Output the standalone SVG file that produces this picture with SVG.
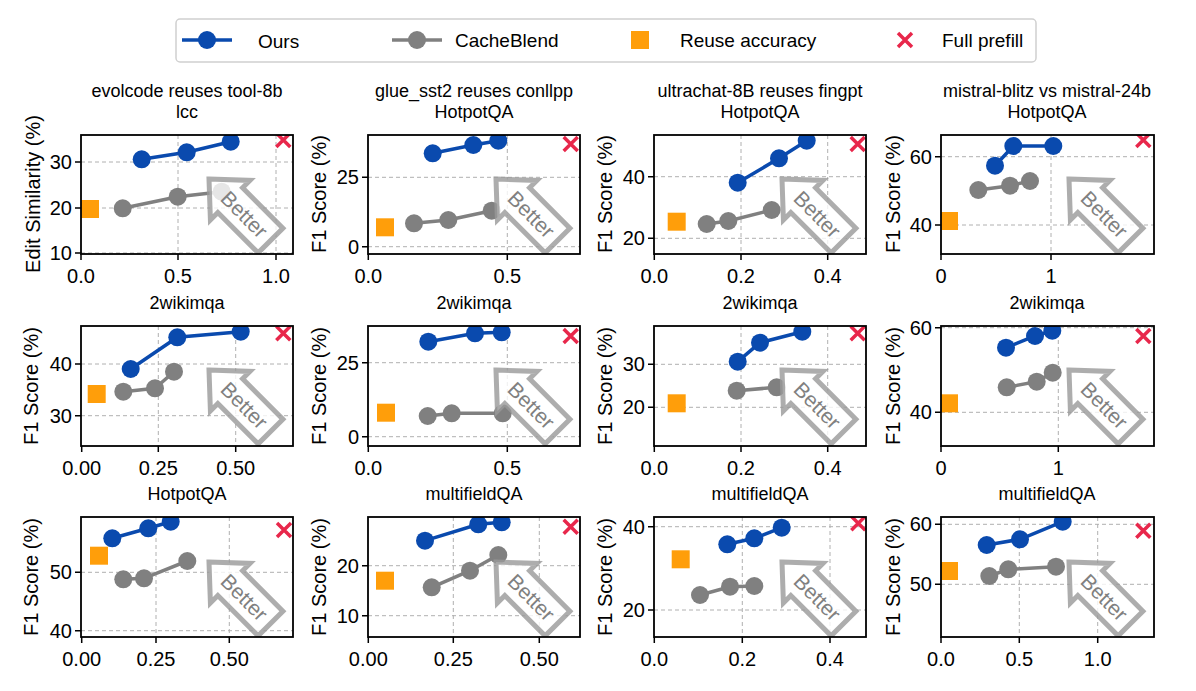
<svg xmlns="http://www.w3.org/2000/svg" width="1196" height="691" viewBox="0 0 1196 691">
<style>
text{font-family:"Liberation Sans",Arial,sans-serif;fill:#000}
.t{font-size:18px;text-anchor:middle}
.yl{font-size:20px;text-anchor:middle}
.xt{font-size:20px;text-anchor:middle}
.yt{font-size:20px;text-anchor:end;dominant-baseline:central}
.lg{font-size:19px;dominant-baseline:central}
.box{fill:none;stroke:#000;stroke-width:1.8}
.g{stroke:#b0b0b0;stroke-width:1;stroke-dasharray:4,3;fill:none}
.tk{stroke:#000;stroke-width:1.5}
.o{fill:none;stroke:#0a4aae;stroke-width:3.5}
.oc{fill:#0a4aae}
.c{fill:none;stroke:#808080;stroke-width:3.5}
.cc{fill:#808080}
.sq{fill:#ff9e0a}
.x{stroke:#e8274b;stroke-width:3.5;fill:none}
.bt{font-size:21px;fill:#808080;text-anchor:middle;dominant-baseline:central}
</style>
<defs>
<g id="arrow"><polygon points="0,0 28,30 17.5,30 17.5,87 -17.5,87 -17.5,30 -28,30" fill="#fff" fill-opacity="0.8" stroke="#999" stroke-opacity="0.8" stroke-width="5" stroke-linejoin="miter"/><text class="bt" transform="translate(0,50) rotate(90)">Better</text></g>
<path id="xm" d="M-7,-7L7,7M-7,7L7,-7"/>
<clipPath id="r1"><rect x="81" y="135" width="212" height="119"/></clipPath>
<clipPath id="r2"><rect x="368" y="135" width="212" height="119"/></clipPath>
<clipPath id="r3"><rect x="654" y="135" width="212" height="119"/></clipPath>
<clipPath id="r4"><rect x="941" y="135" width="213" height="119"/></clipPath>
<clipPath id="r5"><rect x="81" y="326" width="212" height="120"/></clipPath>
<clipPath id="r6"><rect x="368" y="326" width="212" height="120"/></clipPath>
<clipPath id="r7"><rect x="654" y="326" width="212" height="120"/></clipPath>
<clipPath id="r8"><rect x="941" y="326" width="213" height="120"/></clipPath>
<clipPath id="r9"><rect x="81" y="517" width="212" height="120"/></clipPath>
<clipPath id="r10"><rect x="368" y="517" width="212" height="120"/></clipPath>
<clipPath id="r11"><rect x="654" y="517" width="212" height="120"/></clipPath>
<clipPath id="r12"><rect x="941" y="517" width="213" height="120"/></clipPath>
</defs>
<rect width="1196" height="691" fill="#fff"/>

<g id="legend">
<rect x="176" y="19" width="860" height="43" rx="4" fill="#fff" stroke="#d0d0d0" stroke-width="1.5"/>
<line x1="182" y1="40" x2="232" y2="40" class="o"/><circle cx="207" cy="40" r="9" class="oc"/><text class="lg" x="258" y="41">Ours</text>
<line x1="392" y1="40" x2="442" y2="40" class="c"/><circle cx="417" cy="40" r="9" class="cc"/><text class="lg" x="455" y="40">CacheBlend</text>
<rect x="631" y="31" width="18" height="18" class="sq"/><text class="lg" x="680" y="40">Reuse accuracy</text>
<use href="#xm" x="905" y="40" class="x"/><text class="lg" x="942" y="40">Full prefill</text>
</g>

<!-- Panel 1 -->
<g id="p1">
<g clip-path="url(#r1)">
<path class="g" d="M178,135V254M276,135V254M81,208H293M81,162H293M81,253H293"/>
<polyline class="c" points="122.7,208.3 177.7,196.7 221.7,191.7"/><circle cx="122.7" cy="208.3" r="9" class="cc"/><circle cx="177.7" cy="196.7" r="9" class="cc"/><circle cx="221.7" cy="191.7" r="9" class="cc"/>
<polyline class="o" points="141.7,159.3 186.7,152.3 230.7,141.7"/><circle cx="141.7" cy="159.3" r="9" class="oc"/><circle cx="186.7" cy="152.3" r="9" class="oc"/><circle cx="230.7" cy="141.7" r="9" class="oc"/>
<rect x="81" y="200" width="18" height="18" class="sq"/>
<use href="#xm" x="283.3" y="140" class="x"/>
<use href="#arrow" transform="translate(209,179) rotate(-45)"/>
</g>
<rect class="box" x="81" y="135" width="212" height="119"/>
<path class="tk" d="M81,254v6M178,254v6M276,254v6M81,253h-6M81,208h-6M81,162h-6"/>
<text class="xt" x="81" y="283">0.0</text><text class="xt" x="178" y="283">0.5</text><text class="xt" x="276" y="283">1.0</text>
<text class="yt" x="72" y="253">10</text><text class="yt" x="72" y="208">20</text><text class="yt" x="72" y="162">30</text>
<text class="t" x="187" y="97">evolcode reuses tool-8b</text><text class="t" x="187" y="118">lcc</text>
<text class="yl" transform="translate(40,194) rotate(-90)">Edit Similarity (%)</text>
</g>

<!-- Panel 2 -->
<g id="p2">
<g clip-path="url(#r2)">
<path class="g" d="M507.3,135V254M368,177.3H580M368,246.7H580"/>
<polyline class="c" points="414,223.3 448.3,220 491.7,210.7"/><circle cx="414" cy="223.3" r="9" class="cc"/><circle cx="448.3" cy="220" r="9" class="cc"/><circle cx="491.7" cy="210.7" r="9" class="cc"/>
<polyline class="o" points="432.7,153.3 473.3,145 498.3,140.7"/><circle cx="432.7" cy="153.3" r="9" class="oc"/><circle cx="473.3" cy="145" r="9" class="oc"/><circle cx="498.3" cy="140.7" r="9" class="oc"/>
<rect x="376" y="218.3" width="18" height="18" class="sq"/>
<use href="#xm" x="570.7" y="144" class="x"/>
<use href="#arrow" transform="translate(496,179) rotate(-45)"/>
</g>
<rect class="box" x="368" y="135" width="212" height="119"/>
<path class="tk" d="M368.3,254v6M507.3,254v6M368,177.3h-6M368,246.7h-6"/>
<text class="xt" x="368.3" y="283">0.0</text><text class="xt" x="507.3" y="283">0.5</text>
<text class="yt" x="359" y="177.3">25</text><text class="yt" x="359" y="246.7">0</text>
<text class="t" x="474" y="97">glue_sst2 reuses conllpp</text><text class="t" x="474" y="118">HotpotQA</text>
<text class="yl" transform="translate(326,194) rotate(-90)">F1 Score (%)</text>
</g>

<!-- Panel 3 -->
<g id="p3">
<g clip-path="url(#r3)">
<path class="g" d="M741,135V254M827.7,135V254M654,176.7H866M654,238.3H866"/>
<polyline class="c" points="706.7,224 728.3,221 771.7,210"/><circle cx="706.7" cy="224" r="9" class="cc"/><circle cx="728.3" cy="221" r="9" class="cc"/><circle cx="771.7" cy="210" r="9" class="cc"/>
<polyline class="o" points="737.7,182.7 779,158.3 806.7,140.7"/><circle cx="737.7" cy="182.7" r="9" class="oc"/><circle cx="779" cy="158.3" r="9" class="oc"/><circle cx="806.7" cy="140.7" r="9" class="oc"/>
<rect x="667.7" y="212.7" width="18" height="18" class="sq"/>
<use href="#xm" x="857.7" y="144" class="x"/>
<use href="#arrow" transform="translate(782,179) rotate(-45)"/>
</g>
<rect class="box" x="654" y="135" width="212" height="119"/>
<path class="tk" d="M654.3,254v6M741,254v6M827.7,254v6M654,176.7h-6M654,238.3h-6"/>
<text class="xt" x="654.3" y="283">0.0</text><text class="xt" x="741" y="283">0.2</text><text class="xt" x="827.7" y="283">0.4</text>
<text class="yt" x="645" y="176.7">40</text><text class="yt" x="645" y="238.3">20</text>
<text class="t" x="760" y="97">ultrachat-8B reuses fingpt</text><text class="t" x="760" y="118">HotpotQA</text>
<text class="yl" transform="translate(612,194) rotate(-90)">F1 Score (%)</text>
</g>

<!-- Panel 4 -->
<g id="p4">
<g clip-path="url(#r4)">
<path class="g" d="M1051,135V254M941,156.7H1154M941,225H1154"/>
<polyline class="c" points="978.3,190 1010,185.7 1030,181"/><circle cx="978.3" cy="190" r="9" class="cc"/><circle cx="1010" cy="185.7" r="9" class="cc"/><circle cx="1030" cy="181" r="9" class="cc"/>
<polyline class="o" points="995,165.7 1013.3,146 1053.3,146"/><circle cx="995" cy="165.7" r="9" class="oc"/><circle cx="1013.3" cy="146" r="9" class="oc"/><circle cx="1053.3" cy="146" r="9" class="oc"/>
<rect x="941" y="212" width="17" height="18" class="sq"/>
<use href="#xm" x="1143.3" y="140" class="x"/>
<use href="#arrow" transform="translate(1069,179) rotate(-45)"/>
</g>
<rect class="box" x="941" y="135" width="213" height="119"/>
<path class="tk" d="M941,254v6M1051,254v6M941,156.7h-6M941,225h-6"/>
<text class="xt" x="941" y="283">0</text><text class="xt" x="1051" y="283">1</text>
<text class="yt" x="932" y="156.7">60</text><text class="yt" x="932" y="225">40</text>
<text class="t" x="1047" y="97">mistral-blitz vs mistral-24b</text><text class="t" x="1047" y="118">HotpotQA</text>
<text class="yl" transform="translate(900,194) rotate(-90)">F1 Score (%)</text>
</g>

<!-- Panel 5 -->
<g id="p5">
<g clip-path="url(#r5)">
<path class="g" d="M158.3,326V446M235.7,326V446M81,364H293M81,415.7H293"/>
<polyline class="c" points="123.3,391.7 155,388.3 174,371.7"/><circle cx="123.3" cy="391.7" r="9" class="cc"/><circle cx="155" cy="388.3" r="9" class="cc"/><circle cx="174" cy="371.7" r="9" class="cc"/>
<polyline class="o" points="130.7,369 177.3,337.3 240.7,331.7"/><circle cx="130.7" cy="369" r="9" class="oc"/><circle cx="177.3" cy="337.3" r="9" class="oc"/><circle cx="240.7" cy="331.7" r="9" class="oc"/>
<rect x="87.7" y="385" width="18" height="18" class="sq"/>
<use href="#xm" x="283.3" y="333.3" class="x"/>
<use href="#arrow" transform="translate(209,370) rotate(-45)"/>
</g>
<rect class="box" x="81" y="326" width="212" height="120"/>
<path class="tk" d="M81.7,446v6M158.3,446v6M235.7,446v6M81,364h-6M81,415.7h-6"/>
<text class="xt" x="81.7" y="475">0.00</text><text class="xt" x="158.3" y="475">0.25</text><text class="xt" x="235.7" y="475">0.50</text>
<text class="yt" x="72" y="364">40</text><text class="yt" x="72" y="415.7">30</text>
<text class="t" x="187" y="309">2wikimqa</text>
<text class="yl" transform="translate(38,386) rotate(-90)">F1 Score (%)</text>
</g>

<!-- Panel 6 -->
<g id="p6">
<g clip-path="url(#r6)">
<path class="g" d="M507.3,326V446M368,362.7H580M368,436.7H580"/>
<polyline class="c" points="427.7,416 451.7,413.3 502.7,413.3"/><circle cx="427.7" cy="416" r="9" class="cc"/><circle cx="451.7" cy="413.3" r="9" class="cc"/><circle cx="502.7" cy="413.3" r="9" class="cc"/>
<polyline class="o" points="428.3,341.7 475,333.3 501.7,332.3"/><circle cx="428.3" cy="341.7" r="9" class="oc"/><circle cx="475" cy="333.3" r="9" class="oc"/><circle cx="501.7" cy="332.3" r="9" class="oc"/>
<rect x="377" y="403.7" width="18" height="18" class="sq"/>
<use href="#xm" x="570.7" y="336" class="x"/>
<use href="#arrow" transform="translate(496,370) rotate(-45)"/>
</g>
<rect class="box" x="368" y="326" width="212" height="120"/>
<path class="tk" d="M368.3,446v6M507.3,446v6M368,362.7h-6M368,436.7h-6"/>
<text class="xt" x="368.3" y="475">0.0</text><text class="xt" x="507.3" y="475">0.5</text>
<text class="yt" x="359" y="362.7">25</text><text class="yt" x="359" y="436.7">0</text>
<text class="t" x="474" y="309">2wikimqa</text>
<text class="yl" transform="translate(326,386) rotate(-90)">F1 Score (%)</text>
</g>

<!-- Panel 7 -->
<g id="p7">
<g clip-path="url(#r7)">
<path class="g" d="M741,326V446M827.7,326V446M654,364.3H866M654,407.3H866"/>
<polyline class="c" points="736.7,390.7 776.7,387.3"/><circle cx="736.7" cy="390.7" r="9" class="cc"/><circle cx="776.7" cy="387.3" r="9" class="cc"/>
<polyline class="o" points="737.7,361.7 760,342.7 802.3,331.7"/><circle cx="737.7" cy="361.7" r="9" class="oc"/><circle cx="760" cy="342.7" r="9" class="oc"/><circle cx="802.3" cy="331.7" r="9" class="oc"/>
<rect x="667.7" y="394.3" width="18" height="18" class="sq"/>
<use href="#xm" x="857.7" y="333.3" class="x"/>
<use href="#arrow" transform="translate(782,370) rotate(-45)"/>
</g>
<rect class="box" x="654" y="326" width="212" height="120"/>
<path class="tk" d="M654.3,446v6M741,446v6M827.7,446v6M654,364.3h-6M654,407.3h-6"/>
<text class="xt" x="654.3" y="475">0.0</text><text class="xt" x="741" y="475">0.2</text><text class="xt" x="827.7" y="475">0.4</text>
<text class="yt" x="645" y="364.3">30</text><text class="yt" x="645" y="407.3">20</text>
<text class="t" x="760" y="309">2wikimqa</text>
<text class="yl" transform="translate(612,386) rotate(-90)">F1 Score (%)</text>
</g>

<!-- Panel 8 -->
<g id="p8">
<g clip-path="url(#r8)">
<path class="g" d="M1058.3,326V446M941,327.7H1154M941,412.3H1154"/>
<polyline class="c" points="1006.7,387.3 1036.7,381.7 1052.7,372.7"/><circle cx="1006.7" cy="387.3" r="9" class="cc"/><circle cx="1036.7" cy="381.7" r="9" class="cc"/><circle cx="1052.7" cy="372.7" r="9" class="cc"/>
<polyline class="o" points="1006,347.7 1035,336 1052.3,330.7"/><circle cx="1006" cy="347.7" r="9" class="oc"/><circle cx="1035" cy="336" r="9" class="oc"/><circle cx="1052.3" cy="330.7" r="9" class="oc"/>
<rect x="941" y="394.3" width="17" height="18" class="sq"/>
<use href="#xm" x="1143.3" y="336" class="x"/>
<use href="#arrow" transform="translate(1069,370) rotate(-45)"/>
</g>
<rect class="box" x="941" y="326" width="213" height="120"/>
<path class="tk" d="M941,446v6M1058.3,446v6M941,327.7h-6M941,412.3h-6"/>
<text class="xt" x="941" y="475">0</text><text class="xt" x="1058.3" y="475">1</text>
<text class="yt" x="932" y="327.7">60</text><text class="yt" x="932" y="412.3">40</text>
<text class="t" x="1047" y="309">2wikimqa</text>
<text class="yl" transform="translate(900,386) rotate(-90)">F1 Score (%)</text>
</g>

<!-- Panel 9 -->
<g id="p9">
<g clip-path="url(#r9)">
<path class="g" d="M156,517V637M229.3,517V637M81,572.3H293M81,630.7H293"/>
<polyline class="c" points="123.3,579.3 144,578.3 187.3,561"/><circle cx="123.3" cy="579.3" r="9" class="cc"/><circle cx="144" cy="578.3" r="9" class="cc"/><circle cx="187.3" cy="561" r="9" class="cc"/>
<polyline class="o" points="112.3,538.3 148.3,528.3 170.7,521.7"/><circle cx="112.3" cy="538.3" r="9" class="oc"/><circle cx="148.3" cy="528.3" r="9" class="oc"/><circle cx="170.7" cy="521.7" r="9" class="oc"/>
<rect x="90" y="546.7" width="18" height="18" class="sq"/>
<use href="#xm" x="284" y="530" class="x"/>
<use href="#arrow" transform="translate(209,562) rotate(-45)"/>
</g>
<rect class="box" x="81" y="517" width="212" height="120"/>
<path class="tk" d="M81.7,637v6M156,637v6M229.3,637v6M81,572.3h-6M81,630.7h-6"/>
<text class="xt" x="81.7" y="666">0.00</text><text class="xt" x="156" y="666">0.25</text><text class="xt" x="229.3" y="666">0.50</text>
<text class="yt" x="72" y="572.3">50</text><text class="yt" x="72" y="630.7">40</text>
<text class="t" x="187" y="500">HotpotQA</text>
<text class="yl" transform="translate(38,577) rotate(-90)">F1 Score (%)</text>
</g>

<!-- Panel 10 -->
<g id="p10">
<g clip-path="url(#r10)">
<path class="g" d="M453.3,517V637M539.3,517V637M368,565.7H580M368,615.7H580"/>
<polyline class="c" points="431.7,587.3 470,570.7 498.3,555"/><circle cx="431.7" cy="587.3" r="9" class="cc"/><circle cx="470" cy="570.7" r="9" class="cc"/><circle cx="498.3" cy="555" r="9" class="cc"/>
<polyline class="o" points="425,540.7 478.3,524.3 501.7,522.3"/><circle cx="425" cy="540.7" r="9" class="oc"/><circle cx="478.3" cy="524.3" r="9" class="oc"/><circle cx="501.7" cy="522.3" r="9" class="oc"/>
<rect x="376" y="571.7" width="18" height="18" class="sq"/>
<use href="#xm" x="570.7" y="526.7" class="x"/>
<use href="#arrow" transform="translate(496,562) rotate(-45)"/>
</g>
<rect class="box" x="368" y="517" width="212" height="120"/>
<path class="tk" d="M368.3,637v6M453.3,637v6M539.3,637v6M368,565.7h-6M368,615.7h-6"/>
<text class="xt" x="368.3" y="666">0.00</text><text class="xt" x="453.3" y="666">0.25</text><text class="xt" x="539.3" y="666">0.50</text>
<text class="yt" x="359" y="565.7">20</text><text class="yt" x="359" y="615.7">10</text>
<text class="t" x="474" y="500">multifieldQA</text>
<text class="yl" transform="translate(326,577) rotate(-90)">F1 Score (%)</text>
</g>

<!-- Panel 11 -->
<g id="p11">
<g clip-path="url(#r11)">
<path class="g" d="M742.3,517V637M830,517V637M654,526.7H866M654,610H866"/>
<polyline class="c" points="700,595 730,586.7 754.3,586"/><circle cx="700" cy="595" r="9" class="cc"/><circle cx="730" cy="586.7" r="9" class="cc"/><circle cx="754.3" cy="586" r="9" class="cc"/>
<polyline class="o" points="727.3,544.3 754.3,538.3 781.7,527.7"/><circle cx="727.3" cy="544.3" r="9" class="oc"/><circle cx="754.3" cy="538.3" r="9" class="oc"/><circle cx="781.7" cy="527.7" r="9" class="oc"/>
<rect x="671.7" y="550.3" width="18" height="18" class="sq"/>
<use href="#xm" x="858.3" y="523.3" class="x"/>
<use href="#arrow" transform="translate(782,562) rotate(-45)"/>
</g>
<rect class="box" x="654" y="517" width="212" height="120"/>
<path class="tk" d="M654.3,637v6M742.3,637v6M830,637v6M654,526.7h-6M654,610h-6"/>
<text class="xt" x="654.3" y="666">0.0</text><text class="xt" x="742.3" y="666">0.2</text><text class="xt" x="830" y="666">0.4</text>
<text class="yt" x="645" y="526.7">40</text><text class="yt" x="645" y="610">20</text>
<text class="t" x="760" y="500">multifieldQA</text>
<text class="yl" transform="translate(612,577) rotate(-90)">F1 Score (%)</text>
</g>

<!-- Panel 12 -->
<g id="p12">
<g clip-path="url(#r12)">
<path class="g" d="M1019.3,517V637M1097.7,517V637M941,524.3H1154M941,584.3H1154"/>
<polyline class="c" points="989.3,576 1008.3,569.3 1056,566.7"/><circle cx="989.3" cy="576" r="9" class="cc"/><circle cx="1008.3" cy="569.3" r="9" class="cc"/><circle cx="1056" cy="566.7" r="9" class="cc"/>
<polyline class="o" points="986.7,545 1020,539.3 1062.7,521.7"/><circle cx="986.7" cy="545" r="9" class="oc"/><circle cx="1020" cy="539.3" r="9" class="oc"/><circle cx="1062.7" cy="521.7" r="9" class="oc"/>
<rect x="941" y="562" width="17" height="18" class="sq"/>
<use href="#xm" x="1143.3" y="530.7" class="x"/>
<use href="#arrow" transform="translate(1069,562) rotate(-45)"/>
</g>
<rect class="box" x="941" y="517" width="213" height="120"/>
<path class="tk" d="M941,637v6M1019.3,637v6M1097.7,637v6M941,524.3h-6M941,584.3h-6"/>
<text class="xt" x="941" y="666">0.0</text><text class="xt" x="1019.3" y="666">0.5</text><text class="xt" x="1097.7" y="666">1.0</text>
<text class="yt" x="932" y="524.3">60</text><text class="yt" x="932" y="584.3">50</text>
<text class="t" x="1047" y="500">multifieldQA</text>
<text class="yl" transform="translate(900,577) rotate(-90)">F1 Score (%)</text>
</g>
</svg>
